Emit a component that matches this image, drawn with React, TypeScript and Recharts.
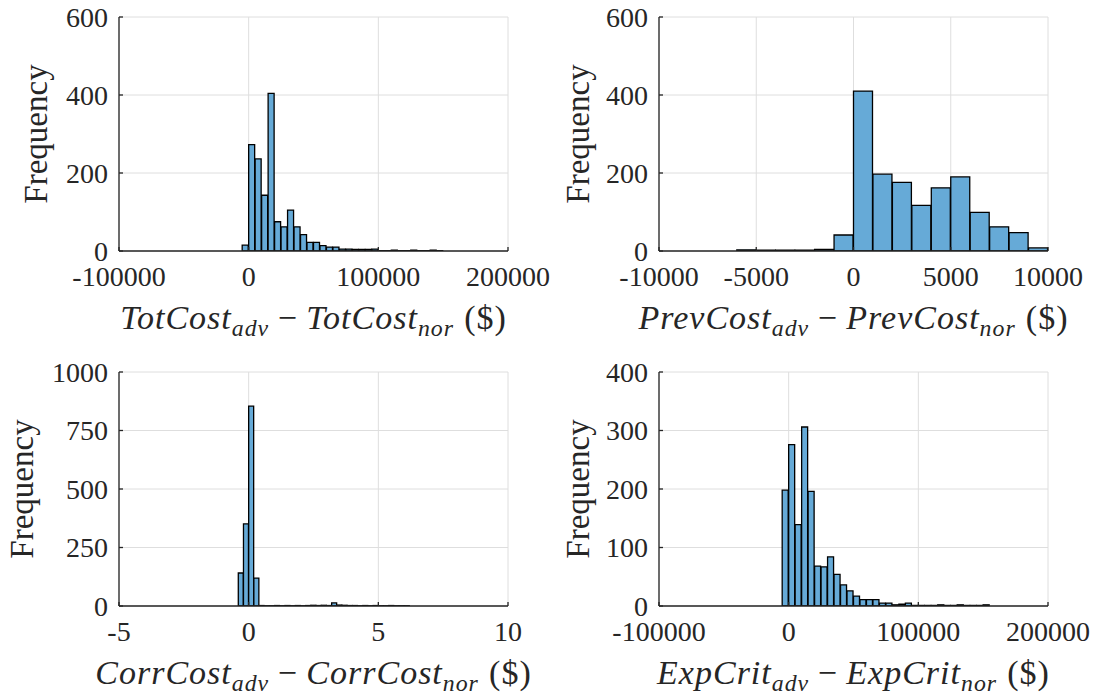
import { Bar, BarChart, CartesianGrid, XAxis, YAxis } from "recharts";
import type { ReactNode } from "react";

// histogram counts, one value per bin starting at *Start
const totStart = -5000;
const totWidth = 5000;
const totCounts = [
  15, 273, 236, 143, 404, 75, 62, 105, 62, 42, 22, 22, 14, 10, 10, 5, 5, 4, 4, 4, 5, 1, 1, 2, 1, 1,
  2, 1, 1, 2, 1,
];

const prevStart = -10000;
const prevWidth = 1000;
const prevCounts = [0, 0, 0, 0, 3, 2, 2, 2, 4, 41, 410, 197, 176, 117, 162, 190, 99, 62, 47, 8];

const corrStart = -0.4;
const corrWidth = 0.2;
const corrCounts = [
  141, 351, 854, 119, 2, 1, 1, 2, 1, 2, 1, 2, 1, 2, 3, 2, 3, 2, 13, 4, 3, 2, 2, 1, 2, 1, 2, 1, 1, 2,
  1, 1, 1,
];

const expStart = -5000;
const expWidth = 5000;
const expCounts = [
  198, 276, 139, 306, 196, 68, 67, 84, 54, 36, 26, 17, 11, 11, 11, 5, 5, 2, 3, 5, 1, 1, 1, 1, 2, 1,
  1, 2, 1, 1, 1, 2,
];

const bigTicks = [-100000, 0, 100000, 200000];
const prevTicks = [-10000, -5000, 0, 5000, 10000];
const corrTicks = [-5, 0, 5, 10];
const freqTicks600 = [0, 200, 400, 600];
const freqTicks1000 = [0, 250, 500, 750, 1000];
const freqTicks400 = [0, 100, 200, 300, 400];

const labelNames = ["TotCost", "PrevCost", "CorrCost", "ExpCrit"];

const ink = "#262626";
const font = "'Liberation Serif', 'DejaVu Serif', serif";
const barFill = "#66aad7";

function buildBins(domain: number[], start: number, width: number, counts: number[]) {
  const n = Math.round((domain[1] - domain[0]) / width);
  const rows = [];
  for (let i = 0; i < n; i++) {
    const lo = domain[0] + i * width;
    const k = Math.round((lo - start) / width);
    rows.push({ bin: i, x: lo + width / 2, count: k >= 0 && k < counts.length ? counts[k] : 0 });
  }
  return rows;
}

function MathLabel({ name }: { name: string }) {
  const sub = { fontSize: "0.7em", verticalAlign: "-0.28em", lineHeight: 0 } as const;
  return (
    <span>
      <i>{name}</i>
      <i style={sub}>adv</i>
      <span style={{ margin: "0 0.25em" }}>−</span>
      <i>{name}</i>
      <i style={sub}>nor</i>
      <span style={{ marginLeft: "0.3em" }}>($)</span>
    </span>
  );
}

interface PanelProps {
  left: number;
  top: number;
  xDomain: number[];
  xTicks: number[];
  yTicks: number[];
  data: { bin: number; x: number; count: number }[];
  label: ReactNode;
  yLabelX: number;
}

const PW = 389;
const PH = 234;

function Panel({ left, top, xDomain, xTicks, yTicks, data, label, yLabelX }: PanelProps) {
  const yDomain = [yTicks[0], yTicks[yTicks.length - 1]];
  const tickStyle = { fontFamily: font, fontSize: 28, fill: ink };
  return (
    <>
      <div style={{ position: "absolute", left: left - 100, top: top - 10 }}>
        <BarChart
          width={100 + PW + 60}
          height={10 + PH + 50}
          data={data}
          margin={{ top: 10, right: 60, bottom: 0, left: 40 }}
          barCategoryGap={0}
          barGap={0}
        >
          <CartesianGrid xAxisId="num" yAxisId="left" stroke="#dedede" strokeWidth={1} />
          <XAxis xAxisId="bins" dataKey="bin" type="category" hide height={0} />
          <XAxis
            xAxisId="num"
            dataKey="x"
            type="number"
            domain={xDomain}
            ticks={xTicks}
            allowDataOverflow
            interval={0}
            height={50}
            tickSize={-4}
            tickMargin={19}
            tick={tickStyle}
            stroke={ink}
            strokeWidth={1.3}
          />
          <XAxis
            xAxisId="top"
            orientation="top"
            dataKey="x"
            type="number"
            domain={xDomain}
            ticks={xTicks}
            allowDataOverflow
            height={0}
            tickSize={-4}
            tick={false}
            stroke={ink}
            strokeWidth={1.3}
          />
          <YAxis
            yAxisId="left"
            type="number"
            domain={yDomain}
            ticks={yTicks}
            allowDataOverflow
            interval={0}
            width={60}
            tickSize={-4}
            tickMargin={15}
            tick={tickStyle}
            stroke={ink}
            strokeWidth={1.3}
          />
          <YAxis
            yAxisId="right"
            orientation="right"
            type="number"
            domain={yDomain}
            ticks={yTicks}
            allowDataOverflow
            width={0}
            tickSize={-4}
            tick={false}
            stroke={ink}
            strokeWidth={1.3}
          />
          <Bar
            xAxisId="bins"
            yAxisId="left"
            dataKey="count"
            fill={barFill}
            stroke="#000"
            strokeWidth={1.3}
            isAnimationActive={false}
          />
        </BarChart>
      </div>
      <div
        style={{
          position: "absolute",
          left: left - 60,
          width: PW + 120,
          top: top + PH + 47,
          textAlign: "center",
          fontFamily: font,
          fontSize: 34,
          letterSpacing: 1,
          color: ink,
          whiteSpace: "nowrap",
          lineHeight: "40px",
        }}
      >
        {label}
      </div>
      <div
        style={{
          position: "absolute",
          left: yLabelX - 100,
          top: top + PH / 2 - 20,
          width: 200,
          height: 40,
          lineHeight: "40px",
          textAlign: "center",
          transform: "rotate(-90deg)",
          fontFamily: font,
          fontSize: 33,
          color: ink,
        }}
      >
        Frequency
      </div>
    </>
  );
}

export default function App() {
  const totData = buildBins([-100000, 200000], totStart, totWidth, totCounts);
  const prevData = buildBins([-10000, 10000], prevStart, prevWidth, prevCounts);
  const corrData = buildBins([-5, 10], corrStart, corrWidth, corrCounts);
  const expData = buildBins([-100000, 200000], expStart, expWidth, expCounts);

  return (
    <div
      style={{
        position: "absolute",
        left: 0,
        top: 0,
        width: 1096,
        height: 693,
        background: "#fff",
        overflow: "hidden",
      }}
    >
      <Panel
        left={119}
        top={17}
        xDomain={[-100000, 200000]}
        xTicks={bigTicks}
        yTicks={freqTicks600}
        data={totData}
        label={<MathLabel name={labelNames[0]} />}
        yLabelX={36}
      />
      <Panel
        left={659}
        top={17}
        xDomain={[-10000, 10000]}
        xTicks={prevTicks}
        yTicks={freqTicks600}
        data={prevData}
        label={<MathLabel name={labelNames[1]} />}
        yLabelX={578}
      />
      <Panel
        left={119}
        top={372}
        xDomain={[-5, 10]}
        xTicks={corrTicks}
        yTicks={freqTicks1000}
        data={corrData}
        label={<MathLabel name={labelNames[2]} />}
        yLabelX={22}
      />
      <Panel
        left={659}
        top={372}
        xDomain={[-100000, 200000]}
        xTicks={bigTicks}
        yTicks={freqTicks400}
        data={expData}
        label={<MathLabel name={labelNames[3]} />}
        yLabelX={578}
      />
    </div>
  );
}
